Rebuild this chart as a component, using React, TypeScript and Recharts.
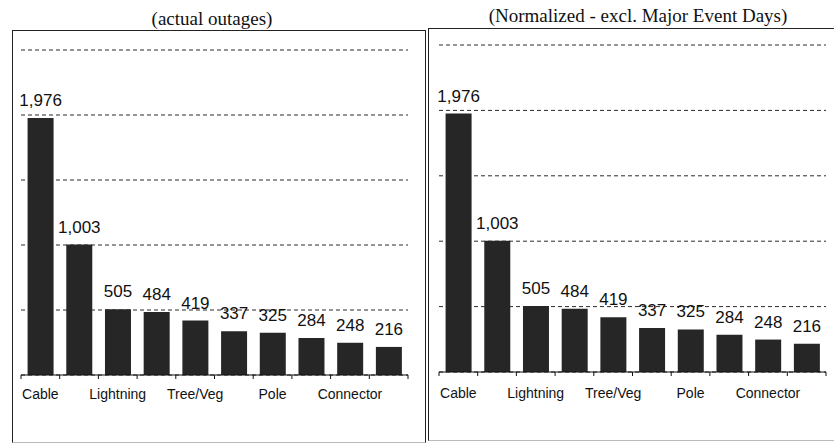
import { Bar, BarChart, CartesianGrid, LabelList, XAxis, YAxis } from 'recharts'

const causes = [
  'Cable',
  'Transformer',
  'Lightning',
  'Animal',
  'Tree/Veg',
  'Unknown',
  'Pole',
  'Equipment',
  'Connector',
  'Other',
]
const actualOutages = [1976, 1003, 505, 484, 419, 337, 325, 284, 248, 216]
const normalizedOutages = [1976, 1003, 505, 484, 419, 337, 325, 284, 248, 216]
const yTicks = [0, 500, 1000, 1500, 2000, 2500]

const sans = '"Liberation Sans", Arial, sans-serif'
const serif = '"Liberation Serif", "Times New Roman", serif'

function CauseTick(props: any) {
  const { x, y, payload, index, labelDy, count } = props
  const half = payload.offset ?? 0
  return (
    <g>
      <line x1={x - half} y1={y} x2={x - half} y2={y + 4} stroke="#111" />
      {index === count - 1 && (
        <line x1={x + half} y1={y} x2={x + half} y2={y + 4} stroke="#111" />
      )}
      {index % 2 === 0 && (
        <text x={x} y={y + labelDy} textAnchor="middle" fontFamily={sans} fontSize={14} fill="#111">
          {payload.value}
        </text>
      )}
    </g>
  )
}

function OutageChart({ values, top, axisY, labelDy }: { values: number[]; top: number; axisY: number; labelDy: number }) {
  const data = causes.map((cause, i) => ({ cause, outages: values[i] }))
  return (
    <BarChart
      width={420}
      height={443}
      data={data}
      margin={{ top, right: 12, left: 21, bottom: 0 }}
      barCategoryGap="17%"
    >
      <CartesianGrid vertical={false} stroke="#2a2a2a" strokeDasharray="4 3" />
      <YAxis hide domain={[0, 2500]} ticks={yTicks} />
      <XAxis
        dataKey="cause"
        height={443 - axisY}
        interval={0}
        tickSize={0}
        tickMargin={0}
        tickLine={false}
        axisLine={{ stroke: '#111' }}
        tick={<CauseTick labelDy={labelDy} count={causes.length} />}
      />
      <Bar dataKey="outages" fill="#262626" isAnimationActive={false}>
        <LabelList
          dataKey="outages"
          position="top"
          offset={12}
          formatter={(v: any) => Number(v).toLocaleString('en-US')}
          style={{ fontFamily: sans, fontSize: 17, fill: '#111' }}
        />
      </Bar>
    </BarChart>
  )
}

export default function App() {
  return (
    <div style={{ position: 'absolute', left: 0, top: 0, width: 834, height: 443, background: '#fff', overflow: 'hidden' }}>
      <div style={{ position: 'absolute', left: 12, top: 30, width: 412, height: 411, borderTop: '1px solid #222', borderLeft: '1px solid #222', borderRight: '1px solid #222', borderBottom: '1px solid #bbb' }} />
      <div style={{ position: 'absolute', left: 428, top: 28, width: 420, height: 411, borderTop: '1px solid #222', borderLeft: '1px solid #222', borderBottom: '1px solid #bbb' }} />
      <div style={{ position: 'absolute', left: 62, top: 8, width: 300, textAlign: 'center', fontFamily: serif, fontSize: 19, color: '#111' }}>
        (actual outages)
      </div>
      <div style={{ position: 'absolute', left: 438, top: 5, width: 400, textAlign: 'center', fontFamily: serif, fontSize: 19, color: '#111' }}>
        (Normalized - excl. Major Event Days)
      </div>
      <div style={{ position: 'absolute', left: 0, top: 0 }}>
        <OutageChart values={actualOutages} top={50} axisY={375} labelDy={24} />
      </div>
      <div style={{ position: 'absolute', left: 418, top: 0 }}>
        <OutageChart values={normalizedOutages} top={45} axisY={372} labelDy={26} />
      </div>
    </div>
  )
}
